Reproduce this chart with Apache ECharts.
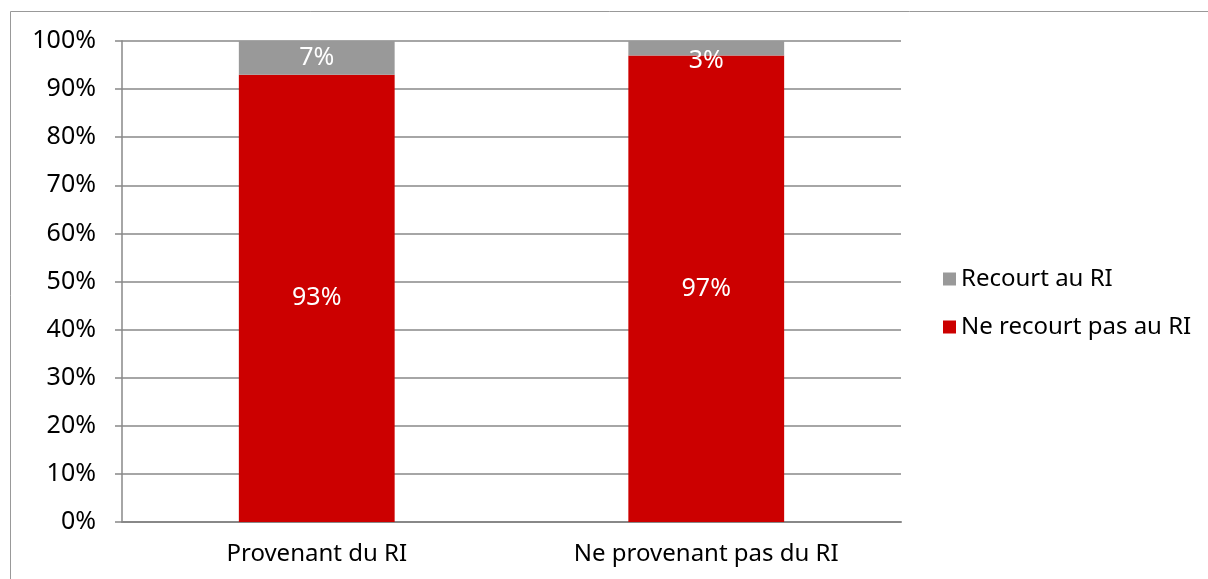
<!DOCTYPE html>
<html>
<head>
<meta charset="utf-8">
<script src="https://cdn.jsdelivr.net/npm/echarts@6/dist/echarts.min.js"></script>
<style>
  html, body { margin: 0; padding: 0; background: #fff; }
  #chart { width: 1208px; height: 579px; }
</style>
</head>
<body>
<div id="chart"></div>
<script>
const categories = ["Provenant du RI", "Ne provenant pas du RI"];
const seriesNames = ["Ne recourt pas au RI", "Recourt au RI"];
const nonRecours = [93, 97];
const recours = [7, 3];
const yTicks = [0, 10, 20, 30, 40, 50, 60, 70, 80, 90, 100];

const chart = echarts.init(document.getElementById("chart"));
const FONT = "Noto Sans";

const option = {
  backgroundColor: "#fff",
  animation: false,
  textStyle: { fontFamily: FONT },
  graphic: [{
    type: "rect",
    shape: { x: 10.5, y: 11.5, width: 1220, height: 600 },
    style: { fill: "none", stroke: "#999", lineWidth: 1 }
  }],
  grid: { left: 122, right: 307, top: 41, bottom: 57 },
  legend: {
    orient: "vertical",
    left: 938,
    top: 262,
    itemWidth: 13,
    itemHeight: 13,
    itemGap: 24,
    icon: "rect",
    data: [seriesNames[1], seriesNames[0]],
    textStyle: { fontFamily: FONT, fontSize: 24, color: "#000", padding: [0, 0, 0, 0] }
  },
  xAxis: {
    type: "category",
    data: categories,
    axisLine: { lineStyle: { color: "#888", width: 2 } },
    axisTick: { length: 8, lineStyle: { color: "#888", width: 1 } },
    axisLabel: { fontFamily: FONT, fontSize: 24, color: "#000", margin: 20 }
  },
  yAxis: {
    type: "value",
    min: 0,
    max: 100,
    interval: 10,
    axisLine: { show: true, lineStyle: { color: "#888", width: 1.5 } },
    axisTick: { show: true, length: 7, lineStyle: { color: "#888", width: 1.5 } },
    splitLine: { lineStyle: { color: "#888", width: 1.5 } },
    axisLabel: {
      fontFamily: FONT, fontSize: 25, color: "#000", margin: 26,
      formatter: v => yTicks.includes(v) ? v + "%" : ""
    }
  },
  series: [
    {
      name: seriesNames[0],
      type: "bar",
      stack: "total",
      barWidth: "40%",
      data: nonRecours,
      itemStyle: { color: "#CC0000" },
      label: { show: true, position: "inside", color: "#fff", fontSize: 25, fontFamily: FONT, formatter: "{c}%" }
    },
    {
      name: seriesNames[1],
      type: "bar",
      stack: "total",
      barWidth: "40%",
      data: recours.map((v, i) => ({
        value: v,
        label: v < 5 ? { offset: [0, 13] } : {}
      })),
      itemStyle: { color: "#999999" },
      label: { show: true, position: "inside", color: "#fff", fontSize: 25, fontFamily: FONT, formatter: "{c}%" }
    }
  ]
};

chart.setOption(option);
</script>
</body>
</html>
